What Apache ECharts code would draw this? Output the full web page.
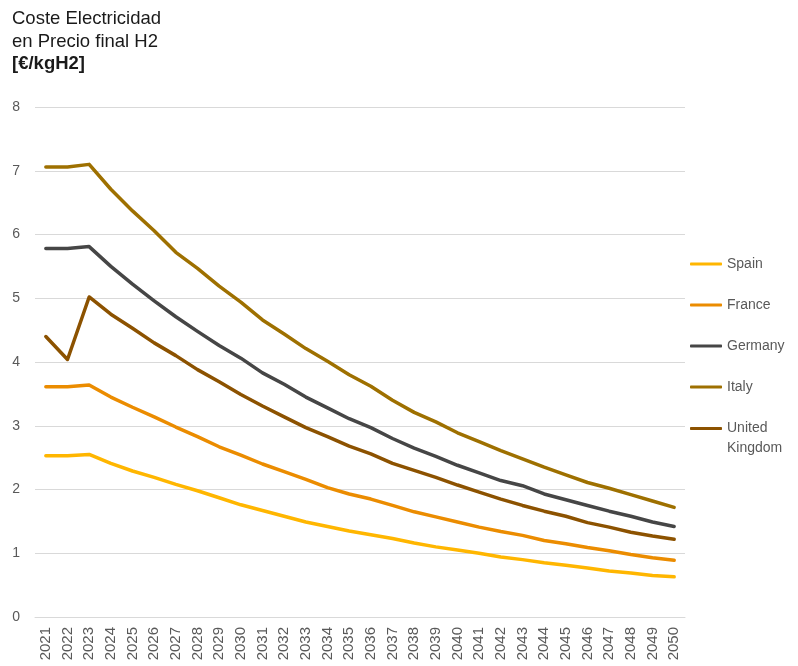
<!DOCTYPE html>
<html>
<head>
<meta charset="utf-8">
<script src="https://cdn.jsdelivr.net/npm/echarts@6/dist/echarts.min.js"></script>
<style>
  html, body { margin: 0; padding: 0; background: #fff; }
  #chart { width: 798px; height: 666px; }
</style>
</head>
<body>
<div id="chart"></div>
<script>
// Electricity cost share of the final H2 price, per country (€/kgH2)
const years = ['2021','2022','2023','2024','2025','2026','2027','2028','2029','2030',
  '2031','2032','2033','2034','2035','2036','2037','2038','2039','2040',
  '2041','2042','2043','2044','2045','2046','2047','2048','2049','2050'];

const spain = [2.53,2.53,2.55,2.41,2.29,2.19,2.08,1.98,1.87,1.76,
  1.67,1.58,1.49,1.42,1.35,1.29,1.23,1.16,1.10,1.05,
  1.00,0.94,0.90,0.85,0.81,0.77,0.72,0.69,0.65,0.63];
const france = [3.61,3.61,3.64,3.45,3.29,3.14,2.98,2.83,2.67,2.54,
  2.40,2.28,2.16,2.03,1.93,1.85,1.75,1.65,1.57,1.49,
  1.41,1.34,1.28,1.20,1.15,1.09,1.04,0.98,0.93,0.89];
const germany = [5.78,5.78,5.81,5.50,5.22,4.96,4.71,4.48,4.26,4.06,
  3.83,3.65,3.45,3.28,3.11,2.97,2.80,2.65,2.52,2.38,
  2.26,2.14,2.06,1.93,1.84,1.75,1.66,1.58,1.49,1.42];
const italy = [7.06,7.06,7.10,6.71,6.37,6.06,5.72,5.47,5.19,4.94,
  4.66,4.44,4.21,4.01,3.80,3.62,3.40,3.21,3.06,2.89,
  2.75,2.61,2.48,2.35,2.23,2.11,2.02,1.92,1.82,1.72];
const uk = [4.40,4.04,5.02,4.75,4.53,4.30,4.10,3.88,3.69,3.49,
  3.31,3.14,2.97,2.83,2.68,2.56,2.41,2.30,2.19,2.07,
  1.96,1.85,1.75,1.66,1.58,1.48,1.41,1.33,1.27,1.22];

const countries = ['Spain','France','Germany','Italy','United Kingdom'];
const colors = ['#FFB600','#EB8C00','#464646','#9E7000','#8C5200'];
const values = [spain, france, germany, italy, uk];

const FONT = '"Liberation Sans", Arial, sans-serif';
const chart = echarts.init(document.getElementById('chart'), null, { renderer: 'canvas' });

// shared legend look: short thick bars followed by the country name
const legendBase = {
  orient: 'vertical',
  left: 685,
  icon: 'roundRect',
  itemWidth: 32,
  itemHeight: 3,
  itemGap: 24,
  textStyle: { fontFamily: FONT, fontSize: 14, color: '#595959', lineHeight: 17 }
};

chart.setOption({
  animation: false,
  color: colors,
  textStyle: { fontFamily: FONT },
  title: {
    left: 7,
    top: 3,
    text: '{a|Coste Electricidad}\n{a|en Precio final H2}\n{b|[€/kgH2]}',
    textStyle: {
      rich: {
        a: { fontFamily: FONT, fontSize: 18.5, fontWeight: 'normal', color: '#1a1a1a', lineHeight: 22.5 },
        b: { fontFamily: FONT, fontSize: 18.5, fontWeight: 'bold', color: '#1a1a1a', lineHeight: 22.5 }
      }
    }
  },
  grid: { left: 35, right: 113, top: 107, bottom: 49, containLabel: false },
  legend: [
    Object.assign({}, legendBase, { top: 250.5, data: countries.slice(0, 4) }),
    // two-line entry: a leading blank line keeps the bar level with "United"
    Object.assign({}, legendBase, {
      top: 393.5,
      data: countries.slice(4),
      textStyle: Object.assign({}, legendBase.textStyle, { lineHeight: 20 }),
      formatter: name => '\n' + name.replace(' ', '\n')
    })
  ],
  xAxis: {
    type: 'category',
    data: years,
    boundaryGap: true,
    axisLine: { show: true, lineStyle: { color: '#d9d9d9', width: 1 } },
    axisTick: { show: false },
    axisLabel: { rotate: 90, fontSize: 15, color: '#595959', margin: 10, interval: 0, fontFamily: FONT }
  },
  yAxis: {
    type: 'value',
    min: 0,
    max: 8,
    interval: 1,
    axisLine: { show: false },
    axisTick: { show: false },
    axisLabel: { fontSize: 14, color: '#595959', margin: 15, fontFamily: FONT },
    splitLine: { lineStyle: { color: '#d9d9d9', width: 1 } }
  },
  series: countries.map((name, i) => ({
    name,
    type: 'line',
    data: values[i],
    symbol: 'none',
    smooth: false,
    lineStyle: { width: 3.5, color: colors[i], cap: 'round', join: 'round' },
    itemStyle: { color: colors[i] }
  }))
});
</script>
</body>
</html>
